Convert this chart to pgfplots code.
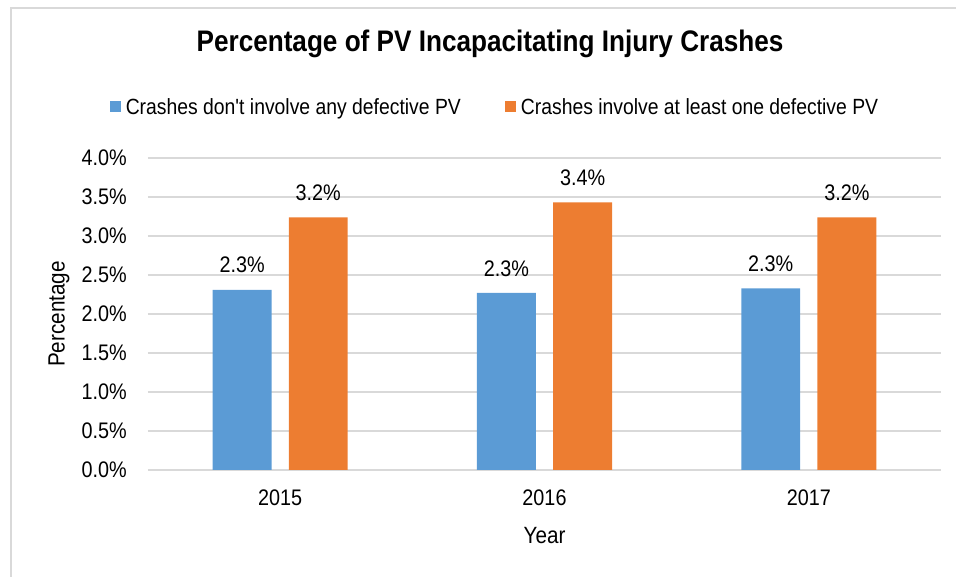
\documentclass[border=0pt]{standalone}
\usepackage{fontspec}
\setmainfont{Liberation Sans}[FakeStretch=0.88, Ligatures=TeXOff]
\usepackage{pgfplots}
\pgfplotsset{compat=1.18}
\definecolor{cblue}{HTML}{5B9BD5}
\definecolor{corange}{HTML}{ED7D31}
\definecolor{cgrid}{HTML}{D9D9D9}
\newcommand{\fs}[1]{\fontsize{#1}{#1}\selectfont}
\begin{document}
\begin{tikzpicture}
\useasboundingbox (-148pt,-107pt) rectangle (808pt,470pt);
\draw[cgrid, line width=1.5pt] (-137pt,-120pt) -- (-137pt,462pt) -- (820pt,462pt);
\begin{axis}[
  at={(0pt,0pt)}, anchor=south west,
  width=793pt, height=312pt, scale only axis,
  ybar, bar width=0.223,
  xmin=-0.5, xmax=2.5, ymin=0, ymax=4,
  xtick={0,1,2}, xticklabels={2015,2016,2017},
  ytick={0,0.5,1,1.5,2,2.5,3,3.5,4},
  /pgf/number format/assume math mode=true,
  yticklabel={\pgfmathprintnumber[fixed,fixed zerofill,precision=1]{\tick}\%},
  axis line style={draw=none},
  major tick length=0pt,
  ymajorgrids, grid style={cgrid, line width=1.3pt},
  yticklabel style={font=\fs{22.5}, inner sep=0pt, anchor=east, xshift=-21pt},
  xticklabel style={font=\fs{22.5}, inner sep=0pt, anchor=north, yshift=-20pt},
  ylabel={Percentage},
  ylabel style={font=\fs{23.5}, at={(axis description cs:-0.1122,0.5)}, anchor=center},
  xlabel={Year},
  xlabel style={font=\fs{23.5}, at={(axis description cs:0.5,-0.2340)}, anchor=base},
  title={\bfseries Percentage of PV Incapacitating Injury Crashes},
  title style={font=\fs{29.7}, at={(axis description cs:0.4313,1.3205)}, anchor=base},
  legend columns=2,
  legend style={at={(axis description cs:0.4363,1.1635)}, anchor=center, draw=none,
    font=\fs{22}, nodes={inner sep=0pt},
    /tikz/every odd column/.append style={column sep=5pt},
    /tikz/every even column/.append style={column sep=44pt}},
  nodes near coords={\pgfmathprintnumber[fixed,fixed zerofill,precision=1]{\pgfplotspointmeta}\%},
  every node near coord/.append style={font=\fs{22.5}, inner sep=0pt, anchor=south, yshift=16.5pt, text=black},
]
\addplot[bar shift=-0.144, fill=cblue, draw=none,
  legend image code/.code={\fill[cblue] (0pt,-5.5pt) rectangle (11pt,5.5pt);}]
  coordinates {(0,2.31) (1,2.27) (2,2.33)};
\addlegendentry{Crashes don't involve any defective PV}
\addplot[bar shift=0.144, fill=corange, draw=none,
  legend image code/.code={\fill[corange] (0pt,-5.5pt) rectangle (11pt,5.5pt);}]
  coordinates {(0,3.24) (1,3.43) (2,3.24)};
\addlegendentry{Crashes involve at least one defective PV}
\end{axis}
\end{tikzpicture}
\end{document}
